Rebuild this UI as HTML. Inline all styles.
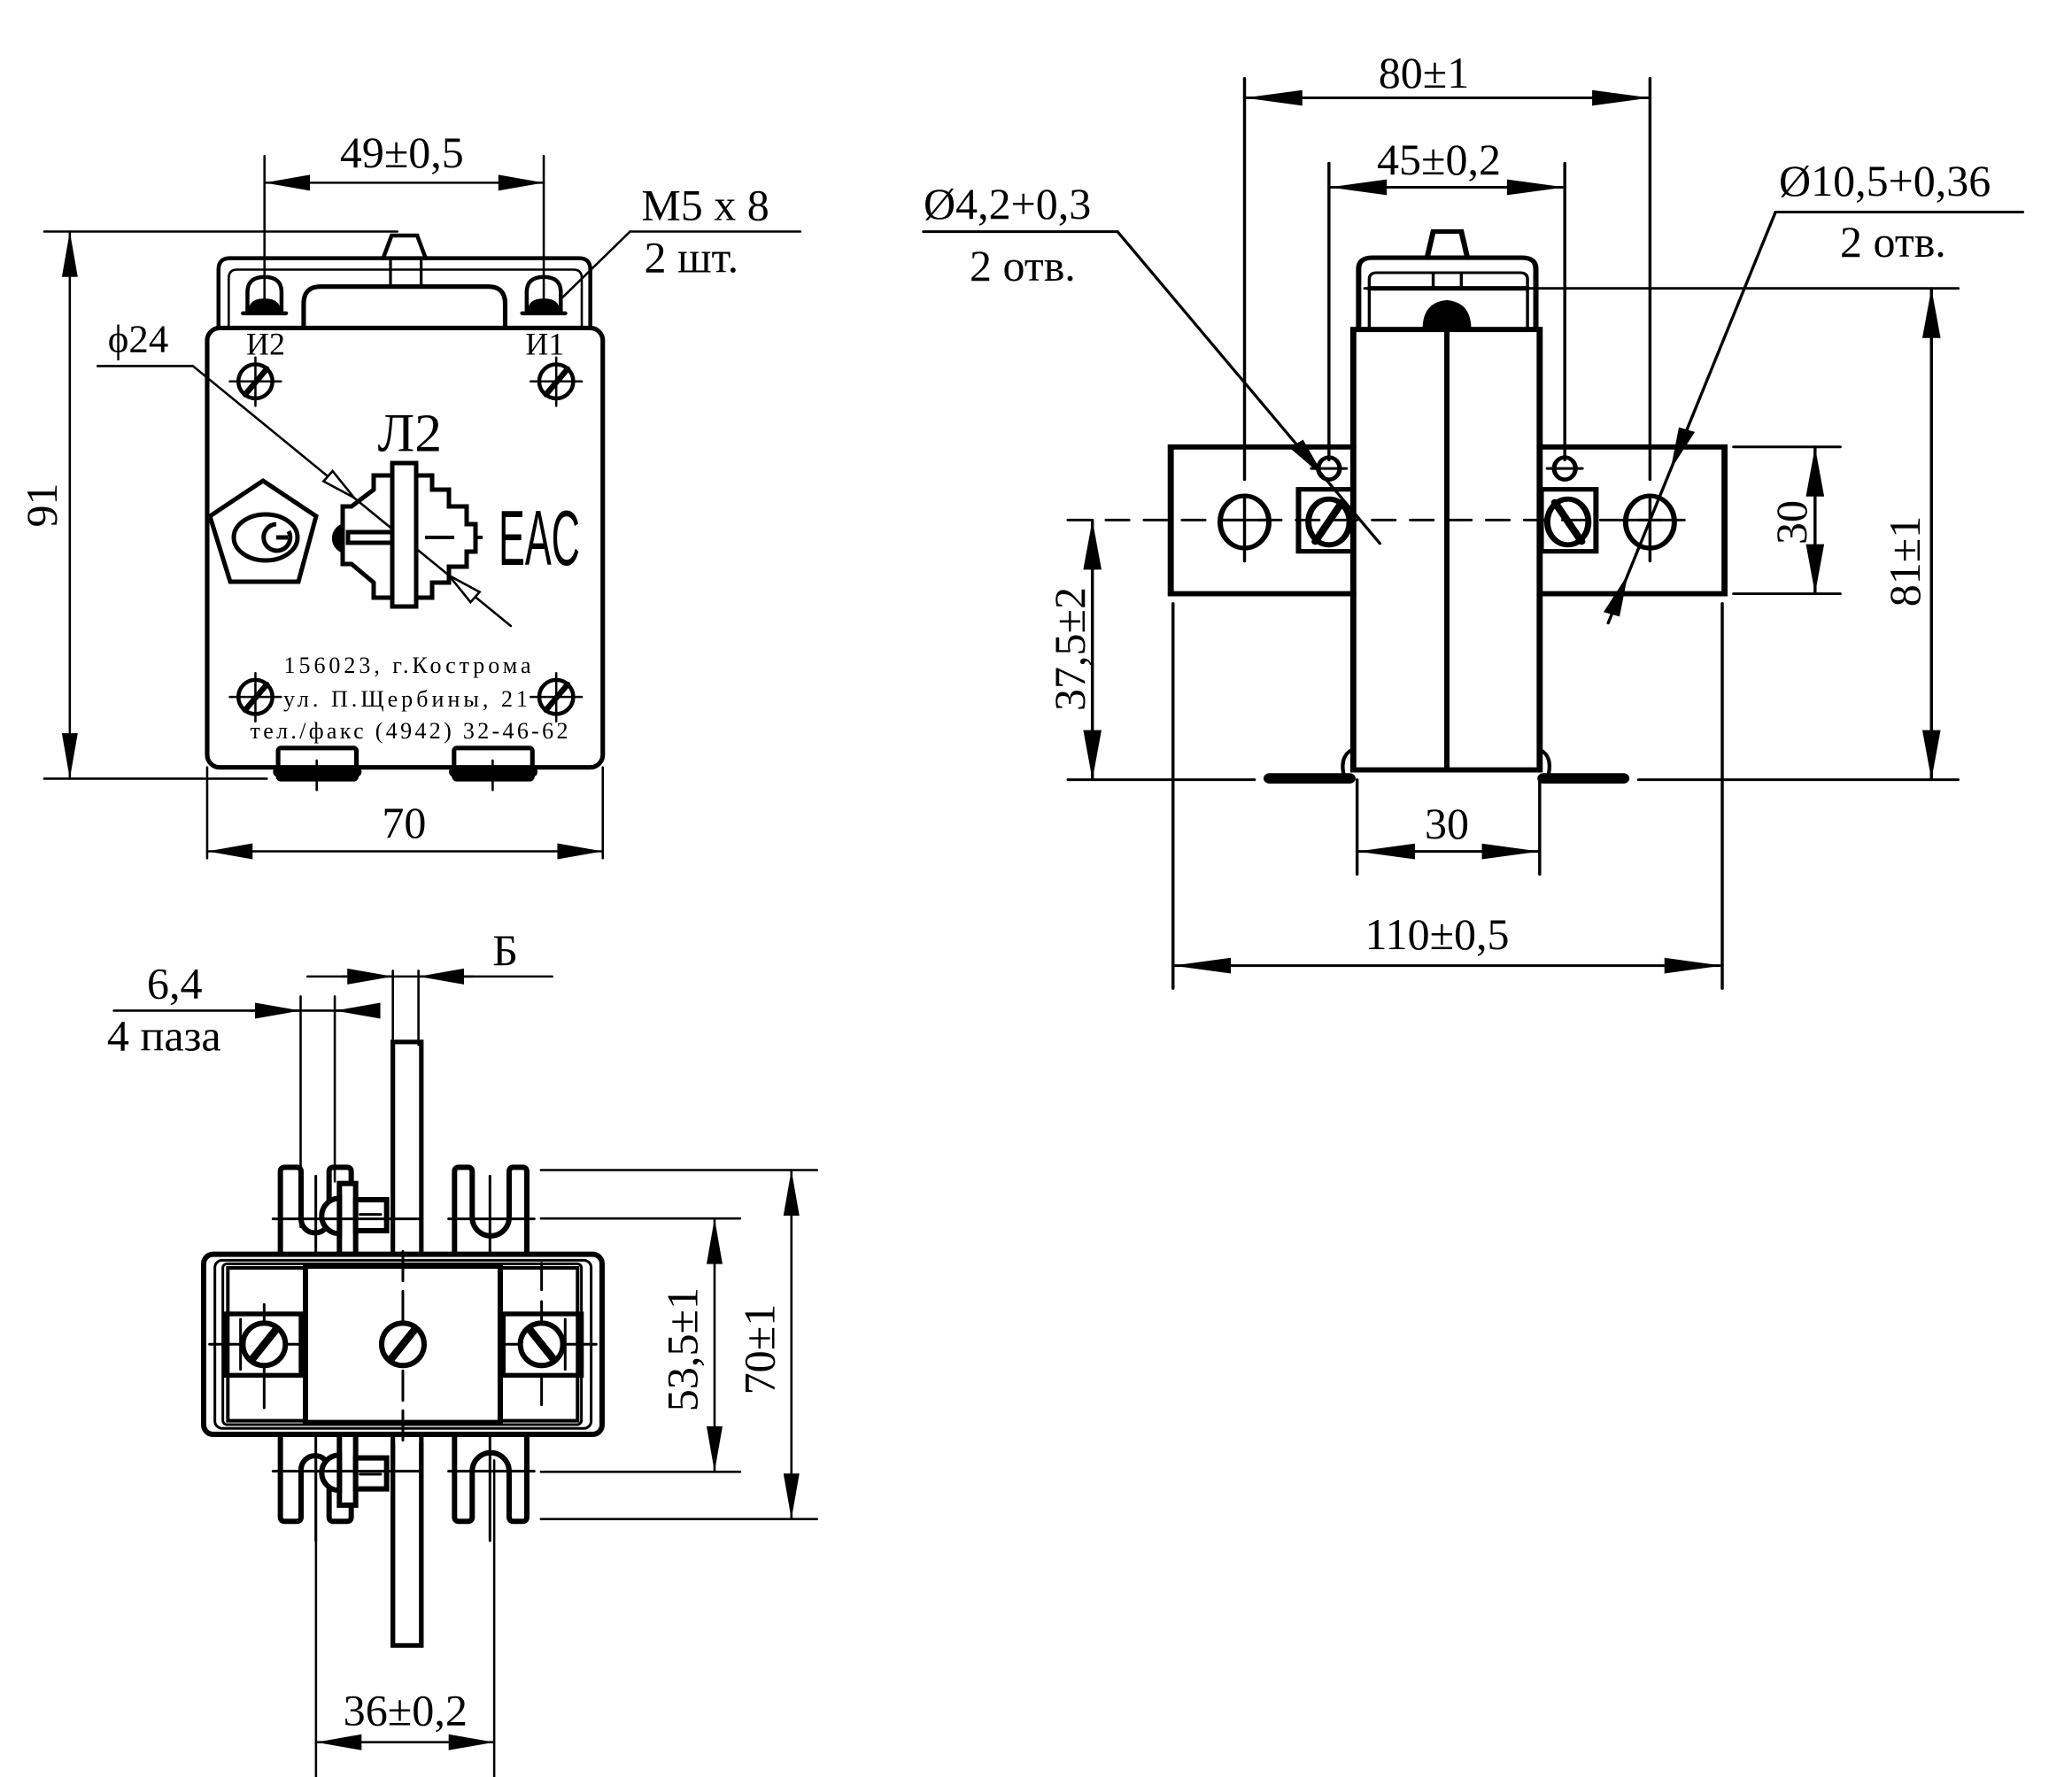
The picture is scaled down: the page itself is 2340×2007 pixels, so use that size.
<!DOCTYPE html>
<html><head><meta charset="utf-8"><style>
html,body{margin:0;padding:0;background:#fff;}
svg{display:block;}
text{font-family:"Liberation Serif",serif;fill:#000;}
</style></head><body>
<svg width="2340" height="2007" viewBox="0 0 2340 2007" xmlns="http://www.w3.org/2000/svg">
<defs>
<marker id="a1" markerUnits="userSpaceOnUse" markerWidth="1" markerHeight="1" orient="auto-start-reverse" style="overflow:visible"><path d="M0,0 L-80,-14 L-80,14 Z" fill="#000"/></marker>
<marker id="a3" markerUnits="userSpaceOnUse" markerWidth="1" markerHeight="1" orient="auto-start-reverse" style="overflow:visible"><path d="M0,0 L-76,-12 L-76,12 Z" fill="#000"/></marker>
</defs>
<rect width="2340" height="2007" fill="#fff"/>

<!-- FRONT VIEW (zoom2 coords) -->
<g transform="scale(0.641)" fill="none" stroke="#000" stroke-linecap="round">
 <g stroke-width="4">
  <line x1="466" y1="275" x2="466" y2="540"/><line x1="958" y1="275" x2="958" y2="540"/>
  <line x1="466" y1="322" x2="958" y2="322" marker-start="url(#a1)" marker-end="url(#a1)"/>
  <line x1="78" y1="408" x2="700" y2="408"/><line x1="78" y1="1372" x2="470" y2="1372"/>
  <line x1="123" y1="408" x2="123" y2="1372" marker-start="url(#a1)" marker-end="url(#a1)"/>
  <line x1="1110" y1="408" x2="1410" y2="408"/><line x1="1110" y1="408" x2="990" y2="525"/>
  <line x1="172" y1="645" x2="340" y2="645"/><line x1="340" y1="645" x2="900" y2="1103"/>
  <line x1="365" y1="1352" x2="365" y2="1512"/><line x1="1062" y1="1352" x2="1062" y2="1512"/>
  <line x1="365" y1="1500" x2="1062" y2="1500" marker-start="url(#a1)" marker-end="url(#a1)"/>
 </g>
 <polygon points="624,877 570,848 586,830" fill="#fff" stroke-width="4"/>
 <polygon points="791,1014 829,1061 845,1043" fill="#fff" stroke-width="4"/>
 <rect x="365" y="578" width="697" height="774" rx="22" stroke-width="8"/>
 <path d="M385,578 V475 Q385,455 405,455 H1020 Q1040,455 1040,475 V578" stroke-width="7"/>
 <path d="M403,578 V490 Q403,475 418,475 H1010 Q1025,475 1025,490 V578" stroke-width="4"/>
 <path d="M535,578 V535 Q535,505 565,505 H860 Q890,505 890,535 V578" stroke-width="8"/>
 <path d="M675,455 L690,415 H735 L750,455" stroke-width="7"/>
 <line x1="688" y1="455" x2="688" y2="505" stroke-width="5"/><line x1="742" y1="455" x2="742" y2="505" stroke-width="5"/>
 <g stroke-width="7">
  <path d="M436,548 V515 Q436,488 466,488 Q496,488 496,515 V548"/><line x1="428" y1="552" x2="504" y2="552"/>
  <path d="M928,548 V515 Q928,488 958,488 Q988,488 988,515 V548"/><line x1="920" y1="552" x2="996" y2="552"/>
 </g>
 <path d="M440,548 Q440,528 466,528 Q492,528 492,548 Z" fill="#000" stroke-width="4"/>
 <path d="M932,548 Q932,528 958,528 Q984,528 984,548 Z" fill="#000" stroke-width="4"/>
 <g stroke-width="7">
  <circle cx="450" cy="672" r="30"/><circle cx="980" cy="672" r="30"/>
  <circle cx="450" cy="1228" r="30"/><circle cx="980" cy="1228" r="30"/>
 </g>
 <g stroke-width="10">
  <line x1="432" y1="695" x2="470" y2="650"/><line x1="962" y1="695" x2="1000" y2="650"/>
  <line x1="432" y1="1251" x2="470" y2="1206"/><line x1="962" y1="1251" x2="1000" y2="1206"/>
 </g>
 <g stroke-width="4">
  <line x1="405" y1="672" x2="495" y2="672"/><line x1="450" y1="630" x2="450" y2="715"/>
  <line x1="935" y1="672" x2="1025" y2="672"/><line x1="980" y1="630" x2="980" y2="715"/>
  <line x1="405" y1="1228" x2="495" y2="1228"/><line x1="450" y1="1186" x2="450" y2="1271"/>
  <line x1="935" y1="1228" x2="1025" y2="1228"/><line x1="980" y1="1186" x2="980" y2="1271"/>
 </g>
 <rect x="490" y="1318" width="138" height="55" rx="5" stroke-width="8"/>
 <rect x="800" y="1318" width="138" height="55" rx="5" stroke-width="8"/>
 <line x1="490" y1="1360" x2="628" y2="1360" stroke-width="18"/>
 <line x1="800" y1="1360" x2="938" y2="1360" stroke-width="18"/>
 <line x1="558" y1="1340" x2="558" y2="1392" stroke-width="4"/><line x1="868" y1="1340" x2="868" y2="1392" stroke-width="4"/>
 <g stroke="none" fill="#000" font-size="78">
  <text x="708" y="295" text-anchor="middle">49±0,5</text>
  <text transform="translate(100,890) rotate(-90)" text-anchor="middle">91</text>
  <text x="1130" y="388">M5 x 8</text>
  <text x="1135" y="480">2 шт.</text>
  <text x="190" y="620" font-size="70">ϕ24</text>
  <text x="712" y="1476" text-anchor="middle">70</text>
  <text x="468" y="625" font-size="56" text-anchor="middle">И2</text>
  <text x="960" y="625" font-size="56" text-anchor="middle">И1</text>
  <text x="722" y="795" font-size="96" text-anchor="middle">Л2</text>
 </g>
</g>
<!-- front view symbol (orig coords) -->
<g fill="none" stroke="#000" stroke-width="5">
 <polygon points="297,543 357,583 337,657 260,657 237,583"/>
 <ellipse cx="300" cy="607" rx="36" ry="26"/>
 <path d="M325,607 H312 M312,592 A15,15 0 1 0 326,600" stroke-width="5"/>
 <polygon points="443,537 422,537 422,553 397,572 387,572 387,637 397,637 422,658 422,675 443,675 443,537" />
 <polygon points="470,537 488,537 488,553 507,553 507,572 527,572 527,592 537,592 537,623 527,623 527,640 507,640 507,658 488,658 488,675 470,675"/>
 <rect x="443" y="523" width="27" height="162" fill="#fff"/>
 <path d="M387,594 A15,15 0 0 0 387,622" fill="#000"/>
 <rect x="393" y="601" width="50" height="12"/>
 <line x1="480" y1="607" x2="513" y2="607" stroke-width="4"/>
 <line x1="535" y1="607" x2="545" y2="607" stroke-width="4"/>
</g>
<text x="563" y="638" font-size="88" textLength="92" lengthAdjust="spacingAndGlyphs" style="font-family:'Liberation Sans',sans-serif">EAC</text>
<g font-size="26" text-anchor="middle">
 <text x="460" y="760" textLength="279" lengthAdjust="spacing">156023, г.Кострома</text>
 <text x="458" y="798" textLength="276" lengthAdjust="spacing">ул. П.Щербины, 21</text>
 <text x="462" y="834" textLength="359" lengthAdjust="spacing">тел./факс (4942) 32-46-62</text>
</g>

<!-- SIDE VIEW (zoom3 coords) -->
<g transform="translate(1000,0) scale(0.8591,0.7369)" fill="none" stroke="#000" stroke-linecap="round">
 <g stroke-width="4">
  <line x1="472" y1="120" x2="472" y2="735"/><line x1="1005" y1="120" x2="1005" y2="735"/>
  <line x1="472" y1="150" x2="1005" y2="150" marker-start="url(#a3)" marker-end="url(#a3)"/>
  <line x1="583" y1="250" x2="583" y2="705"/><line x1="893" y1="250" x2="893" y2="705"/>
  <line x1="583" y1="287" x2="893" y2="287" marker-start="url(#a3)" marker-end="url(#a3)"/>
  <line x1="50" y1="355" x2="305" y2="355"/><line x1="305" y1="355" x2="650" y2="833"/>
  <line x1="1170" y1="325" x2="1495" y2="325"/><line x1="1170" y1="325" x2="950" y2="955"/>
  <line x1="630" y1="442" x2="1410" y2="442"/>
  <line x1="1375" y1="442" x2="1375" y2="1195" marker-start="url(#a3)" marker-end="url(#a3)"/>
  <line x1="1115" y1="685" x2="1255" y2="685"/><line x1="1115" y1="910" x2="1255" y2="910"/>
  <line x1="1222" y1="685" x2="1222" y2="910" marker-start="url(#a3)" marker-end="url(#a3)"/>
  <line x1="240" y1="1195" x2="485" y2="1195"/><line x1="990" y1="1195" x2="1410" y2="1195"/>
  <line x1="272" y1="797" x2="272" y2="1195" marker-start="url(#a3)" marker-end="url(#a3)"/>
  <line x1="378" y1="925" x2="378" y2="1515"/><line x1="1100" y1="925" x2="1100" y2="1515"/>
  <line x1="378" y1="1480" x2="1100" y2="1480" marker-start="url(#a3)" marker-end="url(#a3)"/>
  <line x1="620" y1="1195" x2="620" y2="1340"/><line x1="860" y1="1195" x2="860" y2="1340"/>
  <line x1="620" y1="1305" x2="860" y2="1305" marker-start="url(#a3)" marker-end="url(#a3)"/>
  <line x1="240" y1="797" x2="1050" y2="797" stroke-dasharray="30,20"/>
  <line x1="472" y1="760" x2="472" y2="860"/><line x1="1005" y1="760" x2="1005" y2="860"/>
  <line x1="440" y1="797" x2="505" y2="797"/><line x1="970" y1="797" x2="1040" y2="797"/>
  <line x1="560" y1="718" x2="606" y2="718"/><line x1="870" y1="718" x2="916" y2="718"/>
 </g>
 <polygon points="578,733 531,686 549,674" fill="#000" stroke="none"/>
 <polygon points="1032,720 1064,662 1043,655" fill="#000" stroke="none"/>
 <polygon points="976,880 965,945 944,938" fill="#000" stroke="none"/>
 <path d="M622,505 V412 Q622,395 640,395 H837 Q855,395 855,412 V505" stroke-width="7"/>
 <path d="M636,505 V428 Q636,418 646,418 H834 Q844,418 844,428 V505" stroke-width="4"/>
 <line x1="636" y1="442" x2="844" y2="442" stroke-width="7"/>
 <path d="M712,395 L720,355 H757 L765,395" stroke-width="7"/>
 <line x1="720" y1="418" x2="720" y2="442" stroke-width="4"/><line x1="757" y1="418" x2="757" y2="442" stroke-width="4"/>
 <path d="M708,505 Q708,465 738,462 Q768,465 768,505 Z" fill="#000" stroke-width="4"/>
 <rect x="615" y="505" width="245" height="675" stroke-width="8"/>
 <line x1="738" y1="505" x2="738" y2="1180" stroke-width="7"/>
 <path d="M615,685 H375 V910 H615" stroke-width="8"/>
 <path d="M860,685 H1103 V910 H860" stroke-width="8"/>
 <ellipse cx="472" cy="800" rx="32" ry="40" stroke-width="7"/>
 <ellipse cx="1005" cy="800" rx="32" ry="40" stroke-width="7"/>
 <ellipse cx="583" cy="718" rx="14" ry="17" stroke-width="6"/>
 <ellipse cx="893" cy="718" rx="14" ry="17" stroke-width="6"/>
 <rect x="543" y="750" width="72" height="95" stroke-width="7"/>
 <rect x="862" y="750" width="72" height="95" stroke-width="7"/>
 <ellipse cx="583" cy="800" rx="27" ry="35" stroke-width="8"/>
 <ellipse cx="897" cy="800" rx="27" ry="35" stroke-width="8"/>
 <line x1="565" y1="830" x2="600" y2="770" stroke-width="10"/>
 <line x1="880" y1="770" x2="915" y2="830" stroke-width="10"/>
 <line x1="505" y1="1193" x2="610" y2="1193" stroke-width="16"/>
 <line x1="865" y1="1193" x2="970" y2="1193" stroke-width="16"/>
 <path d="M612,1150 Q598,1160 602,1185 Q605,1198 615,1195" stroke-width="5"/>
 <path d="M862,1150 Q876,1160 872,1185 Q869,1198 860,1195" stroke-width="5"/>
</g>
<g font-size="50">
 <text x="1608" y="99" text-anchor="middle">80±1</text>
 <text x="1625" y="197" text-anchor="middle">45±0,2</text>
 <text x="1043" y="247">Ø4,2+0,3</text>
 <text x="1095" y="317">2 отв.</text>
 <text x="2009" y="221">Ø10,5+0,36</text>
 <text x="2078" y="290">2 отв.</text>
 <text transform="translate(1225,733) rotate(-90)" text-anchor="middle">37,5±2</text>
 <text transform="translate(2040,590) rotate(-90)" text-anchor="middle">30</text>
 <text transform="translate(2168,634) rotate(-90)" text-anchor="middle">81±1</text>
 <text x="1634" y="947" text-anchor="middle">30</text>
 <text x="1623" y="1072" text-anchor="middle">110±0,5</text>
</g>

<!-- BOTTOM VIEW busbar (zoom1 coords, drawn under body) -->
<g transform="translate(0,1000) scale(0.643)" fill="none" stroke="#000">
 <rect x="690" y="275" width="50" height="1060" stroke-width="8"/>
</g>
<!-- BOTTOM VIEW body detail (zoom5 coords) -->
<g transform="translate(220,1300) scale(0.3333)" fill="none" stroke="#000" stroke-linecap="round">
 <g stroke-width="18">
  <path d="M290,350 V70 Q290,55 305,55 H345 Q360,55 360,70 V230 A47,47 0 0 0 455,230 V70 Q455,55 470,55 H515 Q530,55 530,70 V350"/>
  <path d="M880,350 V70 Q880,55 895,55 H925 Q940,55 940,70 V225 A62,62 0 0 0 1065,225 V70 Q1065,55 1080,55 H1110 Q1125,55 1125,70 V350"/>
  <path d="M290,960 V1240 Q290,1255 305,1255 H345 Q360,1255 360,1240 V1080 A47,47 0 0 1 455,1080 V1240 Q455,1255 470,1255 H515 Q530,1255 530,1240 V960"/>
  <path d="M880,960 V1240 Q880,1255 895,1255 H925 Q940,1255 940,1240 V1085 A62,62 0 0 1 1065,1085 V1240 Q1065,1255 1080,1255 H1110 Q1125,1255 1125,1240 V960"/>
 </g>
 <g stroke-width="18" fill="#fff">
  <rect x="490" y="110" width="55" height="240"/>
  <rect x="545" y="165" width="105" height="105"/>
  <path d="M490,160 A60,60 0 0 0 490,280 Z"/>
  <rect x="490" y="960" width="55" height="240"/>
  <rect x="545" y="1040" width="105" height="105"/>
  <path d="M490,1030 A60,60 0 0 0 490,1150 Z"/>
 </g>
 <line x1="560" y1="215" x2="630" y2="215" stroke-width="9"/>
 <line x1="560" y1="1095" x2="630" y2="1095" stroke-width="9"/>
 <g stroke-width="9">
  <line x1="265" y1="230" x2="765" y2="230"/><line x1="860" y1="230" x2="1150" y2="230"/>
  <line x1="265" y1="1085" x2="765" y2="1085"/><line x1="860" y1="1085" x2="1150" y2="1085"/>
  <line x1="410" y1="85" x2="410" y2="375"/><line x1="1000" y1="85" x2="1000" y2="375"/>
  <line x1="410" y1="940" x2="410" y2="1320"/><line x1="1000" y1="940" x2="1000" y2="1320"/>
 </g>
 <rect x="30" y="350" width="1350" height="610" rx="32" fill="#fff" stroke-width="18"/>
 <rect x="68" y="370" width="1275" height="570" rx="25" stroke-width="9"/>
 <rect x="95" y="382" width="1215" height="545" rx="14" stroke-width="9"/>
 <rect x="112" y="396" width="1185" height="518" stroke-width="12"/>
 <rect x="375" y="390" width="660" height="530" fill="#fff" stroke-width="18"/>
 <rect x="105" y="552" width="255" height="208" stroke-width="16"/>
 <rect x="1045" y="552" width="265" height="208" stroke-width="16"/>
 <line x1="155" y1="570" x2="155" y2="740" stroke-width="9"/>
 <line x1="1255" y1="570" x2="1255" y2="740" stroke-width="9"/>
 <g stroke-width="9">
  <line x1="50" y1="655" x2="370" y2="655"/><line x1="1040" y1="655" x2="1360" y2="655"/>
  <line x1="235" y1="520" x2="235" y2="870"/><line x1="1175" y1="380" x2="1175" y2="870" stroke-dasharray="90,40"/>
  <line x1="705" y1="340" x2="705" y2="980" stroke-dasharray="100,35"/>
 </g>
 <g stroke-width="18" fill="#fff">
  <circle cx="235" cy="655" r="72"/><circle cx="705" cy="655" r="72"/><circle cx="1175" cy="655" r="72"/>
 </g>
 <g stroke-width="26">
  <line x1="195" y1="705" x2="275" y2="605"/><line x1="665" y1="705" x2="745" y2="605"/><line x1="1135" y1="605" x2="1215" y2="705"/>
 </g>
</g>
<!-- BOTTOM VIEW dims (zoom1 coords) -->
<g transform="translate(0,1000) scale(0.643)" fill="none" stroke="#000" stroke-linecap="round">
 <g stroke-width="4">
  <line x1="540" y1="160" x2="970" y2="160"/>
  <line x1="600" y1="160" x2="690" y2="160" marker-end="url(#a1)"/>
  <line x1="830" y1="160" x2="735" y2="160" marker-end="url(#a1)"/>
  <line x1="200" y1="220" x2="665" y2="220"/>
  <line x1="440" y1="220" x2="528" y2="220" marker-end="url(#a1)"/>
  <line x1="665" y1="220" x2="588" y2="220" marker-end="url(#a1)"/>
  <line x1="528" y1="195" x2="528" y2="600"/><line x1="588" y1="195" x2="588" y2="520"/>
  <line x1="690" y1="150" x2="690" y2="280"/><line x1="735" y1="150" x2="735" y2="280"/>
  <line x1="950" y1="585" x2="1300" y2="585"/><line x1="950" y1="1030" x2="1300" y2="1030"/>
  <line x1="1255" y1="585" x2="1255" y2="1030" marker-start="url(#a1)" marker-end="url(#a1)"/>
  <line x1="950" y1="500" x2="1435" y2="500"/><line x1="950" y1="1113" x2="1435" y2="1113"/>
  <line x1="1390" y1="500" x2="1390" y2="1113" marker-start="url(#a1)" marker-end="url(#a1)"/>
  <line x1="555" y1="1010" x2="555" y2="1590"/><line x1="868" y1="1010" x2="868" y2="1590"/>
  <line x1="555" y1="1505" x2="868" y2="1505" marker-start="url(#a1)" marker-end="url(#a1)"/>
 </g>
 <line x1="690" y1="980" x2="690" y2="1335" stroke-width="8"/>
 <line x1="740" y1="980" x2="740" y2="1335" stroke-width="8"/>
 <g stroke="none" fill="#000" font-size="78">
  <text x="865" y="140">Б</text>
  <text x="258" y="198">6,4</text>
  <text x="188" y="290">4 паза</text>
  <text transform="translate(1225,815) rotate(-90)" text-anchor="middle">53,5±1</text>
  <text transform="translate(1360,815) rotate(-90)" text-anchor="middle">70±1</text>
  <text x="712" y="1475" text-anchor="middle">36±0,2</text>
 </g>
</g>
</svg>
</body></html>
